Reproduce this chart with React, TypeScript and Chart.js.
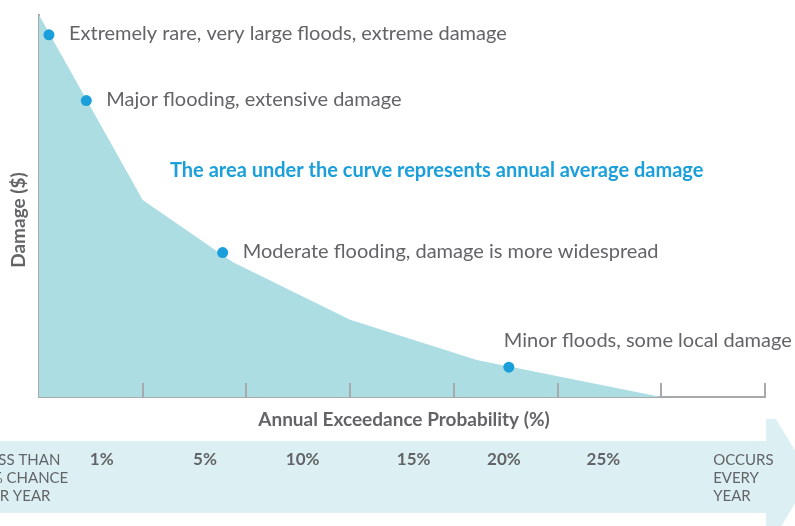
import { useEffect, useRef } from "react";
import { Chart, registerables } from "chart.js";

Chart.register(...registerables);

// Damage curve (x in axis-tick units, y in % of max damage)
const curveX = [0, 1, 1.87, 3, 4.22, 6];
const curveY = [100, 51.6, 35.3, 20.2, 9.7, 0];

// Flood event markers on the curve
const eventX = [0.096, 0.456, 1.771, 4.53];
const eventY = [94.8, 77.6, 37.8, 7.8];
const eventLabels = [
  "Extremely rare, very large floods, extreme damage",
  "Major flooding, extensive damage",
  "Moderate flooding, damage is more widespread",
  "Minor floods, some local damage",
];

// Axis tick marks
const tickValues = [1, 2, 3, 4, 5, 6, 7];

// Probability band labels
const bandLabels = [
  ["LESS THAN", "1% CHANCE", "PER YEAR"],
  ["1%"],
  ["5%"],
  ["10%"],
  ["15%"],
  ["20%"],
  ["25%"],
  ["OCCURS", "EVERY", "YEAR"],
];
const bandLabelX = [-0.55, 0.49, 1.485, 2.38, 3.45, 4.32, 5.28, 6.5];
const bandLabelBold = [false, true, true, true, true, true, true, false];

const xTitle = "Annual Exceedance Probability (%)";
const yTitle = "Damage ($)";
const note = "The area under the curve represents annual average damage";

const FONT = "Lato, 'Open Sans', sans-serif";
const GREY = "#636466";
const AXIS = "#a7a9ac";
const BLUE = "#1a9fdb";
const FILL = "#abdde3";
const BAND = "#dcf0f4";

const decorPlugin = {
  id: "decor",
  beforeDraw(chart: any) {
    const { ctx } = chart;
    ctx.save();
    ctx.fillStyle = BAND;
    // band body
    ctx.fillRect(0, 441, 766, 72);
    // arrow head
    ctx.beginPath();
    ctx.moveTo(766, 419);
    ctx.lineTo(776, 419);
    ctx.lineTo(811, 477);
    ctx.lineTo(776, 535);
    ctx.lineTo(766, 535);
    ctx.closePath();
    ctx.fill();
    ctx.restore();
  },
  afterDatasetsDraw(chart: any) {
    const { ctx, chartArea, scales } = chart;
    const x = scales.x;
    ctx.save();
    // tick marks (upward)
    ctx.strokeStyle = AXIS;
    ctx.lineWidth = 2;
    tickValues.forEach((v) => {
      const px = Math.round(x.getPixelForValue(v));
      ctx.beginPath();
      ctx.moveTo(px, chartArea.bottom);
      ctx.lineTo(px, chartArea.bottom - 14);
      ctx.stroke();
    });
    ctx.restore();
  },
  afterDraw(chart: any) {
    const { ctx, scales } = chart;
    const x = scales.x;
    const y = scales.y;
    ctx.save();
    ctx.textBaseline = "middle";
    ctx.textAlign = "left";
    // event labels
    ctx.fillStyle = GREY;
    ctx.font = `20px ${FONT}`;
    eventLabels.forEach((t, i) => {
      const px = x.getPixelForValue(eventX[i]);
      const py = y.getPixelForValue(eventY[i]);
      if (i === 3) {
        ctx.fillText(t, px - 5, py - 27);
      } else {
        ctx.fillText(t, px + 20, py - 1);
      }
    });
    // note
    ctx.fillStyle = BLUE;
    ctx.font = `bold 20px ${FONT}`;
    ctx.fillText(note, 170, 171);
    // x title
    ctx.fillStyle = GREY;
    ctx.font = `bold 19px ${FONT}`;
    ctx.textAlign = "center";
    ctx.fillText(xTitle, 404, 420);
    // y title
    ctx.save();
    ctx.translate(19, 220);
    ctx.rotate(-Math.PI / 2);
    ctx.fillText(yTitle, 0, 0);
    ctx.restore();
    // band labels
    ctx.textAlign = "left";
    bandLabels.forEach((lines, i) => {
      ctx.font = bandLabelBold[i] ? `bold 17px ${FONT}` : `15px ${FONT}`;
      const px = x.getPixelForValue(bandLabelX[i]);
      lines.forEach((l, j) => ctx.fillText(l, px, 460 + j * 18));
    });
    ctx.restore();
  },
};

export default function App() {
  const ref = useRef<HTMLCanvasElement>(null);
  useEffect(() => {
    if (!ref.current) return;
    const chart = new Chart(ref.current, {
      type: "line",
      data: {
        datasets: [
          {
            data: curveX.map((v, i) => ({ x: v, y: curveY[i] })),
            fill: "origin",
            backgroundColor: FILL,
            borderWidth: 0,
            pointRadius: 0,
            tension: 0,
            order: 2,
          },
          {
            data: eventX.map((v, i) => ({ x: v, y: eventY[i] })),
            showLine: false,
            pointRadius: 5.5,
            pointBackgroundColor: BLUE,
            pointBorderWidth: 0,
            backgroundColor: BLUE,
            borderColor: BLUE,
            order: 1,
          },
        ],
      },
      options: {
        animation: false,
        responsive: false,
        devicePixelRatio: 1,
        layout: { padding: { left: 39, right: 30, top: 15, bottom: 129 } },
        plugins: {
          legend: { display: false },
          tooltip: { enabled: false },
        },
        scales: {
          x: {
            type: "linear",
            min: 0,
            max: 7,
            z: 1,
            ticks: { display: false },
            grid: { display: false, drawTicks: false },
            border: { display: true, color: AXIS, width: 2 },
          },
          y: {
            type: "linear",
            min: 0,
            max: 100,
            z: 1,
            ticks: { display: false },
            grid: { display: false, drawTicks: false },
            border: { display: true, color: AXIS, width: 2 },
          },
        },
      },
      plugins: [decorPlugin],
    });
    return () => chart.destroy();
  }, []);
  return (
    <div style={{ position: "fixed", left: 0, top: 0, width: 795, height: 526, background: "#fff" }}>
      <canvas ref={ref} width={795} height={526} style={{ width: 795, height: 526 }} />
    </div>
  );
}
